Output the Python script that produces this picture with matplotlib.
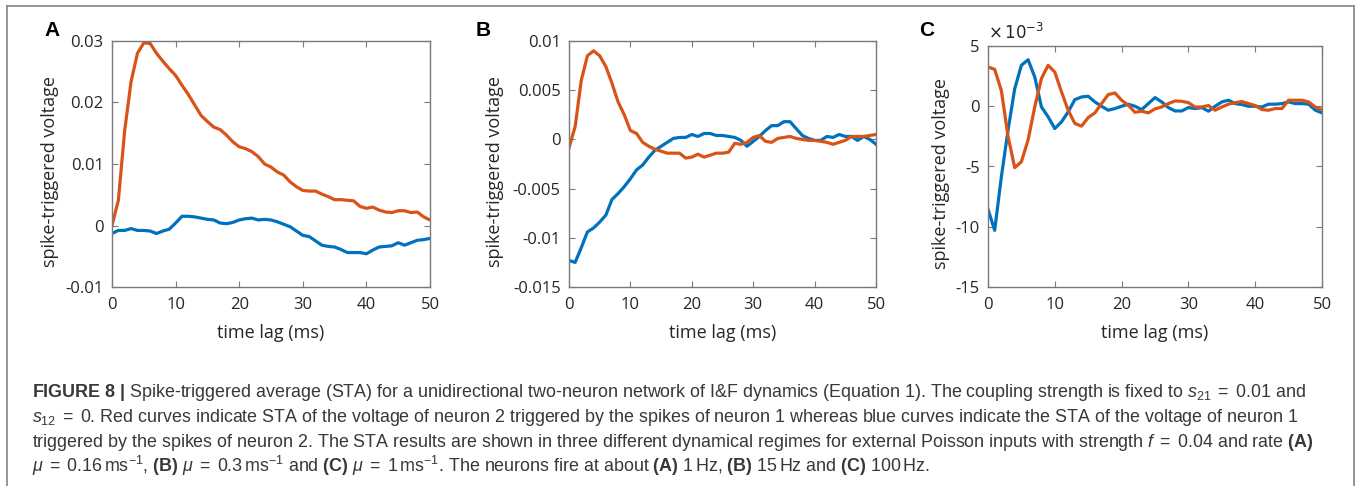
import numpy as np
import matplotlib
matplotlib.use("Agg")
import matplotlib.pyplot as plt
from matplotlib.ticker import FuncFormatter, MultipleLocator
from matplotlib.lines import Line2D

plt.rcParams['font.family'] = ['Open Sans', 'DejaVu Sans']
plt.rcParams['axes.unicode_minus'] = False
plt.rcParams['mathtext.fontset'] = 'custom'
plt.rcParams['mathtext.rm'] = 'Liberation Sans'
plt.rcParams['mathtext.it'] = 'Liberation Sans:italic'
plt.rcParams['mathtext.bf'] = 'Liberation Sans:bold'

# time lag axis (ms)
lag = np.arange(0, 51)

# (A) mu = 0.16 /ms
a_red = [0.0, 0.0041, 0.0155, 0.0234, 0.0280, 0.0297, 0.0296, 0.0280, 0.0267, 0.0255,
         0.0244, 0.0228, 0.0213, 0.0196, 0.0179, 0.0169, 0.0160, 0.0156, 0.0147, 0.0136,
         0.0128, 0.0125, 0.0120, 0.0112, 0.0100, 0.0095, 0.0087, 0.0082, 0.0071, 0.0063,
         0.0057, 0.0056, 0.0056, 0.0051, 0.0047, 0.0042, 0.0042, 0.0041, 0.0040, 0.0031,
         0.0028, 0.0030, 0.0025, 0.0022, 0.0021, 0.0024, 0.0024, 0.0021, 0.0022, 0.0014,
         0.0009]
a_blue = [-0.0013, -0.0008, -0.0008, -0.0005, -0.0008, -0.0008, -0.0009, -0.0013, -0.0009, -0.0006,
          0.0004, 0.0015, 0.0015, 0.0014, 0.0012, 0.0010, 0.0009, 0.0004, 0.0003, 0.0005,
          0.0009, 0.0011, 0.0012, 0.0009, 0.0010, 0.0009, 0.0006, 0.0002, -0.0002, -0.0009,
          -0.0016, -0.0018, -0.0025, -0.0032, -0.0034, -0.0035, -0.0039, -0.0044, -0.0044, -0.0044,
          -0.0046, -0.0040, -0.0035, -0.0034, -0.0033, -0.0028, -0.0032, -0.0028, -0.0024, -0.0023,
          -0.0021]

# (B) mu = 0.3 /ms
b_red = [-0.00085, 0.0013, 0.0060, 0.0085, 0.0090, 0.0085, 0.0074, 0.0057, 0.0038, 0.0025,
         0.0009, 0.0006, -0.0003, -0.0007, -0.0010, -0.0012, -0.0014, -0.0014, -0.0014, -0.0019,
         -0.0018, -0.0015, -0.0018, -0.0016, -0.0014, -0.0014, -0.0013, -0.0004, -0.0005, -0.0003,
         0.0002, 0.0004, -0.0002, -0.0003, 0.0001, 0.0002, 0.0003, 0.0001, 0.0, -0.0001,
         -0.0001, -0.0002, -0.0003, -0.0005, -0.0003, -0.0001, 0.0003, 0.0003, 0.0003, 0.0004,
         0.0005]
b_blue = [-0.0123, -0.0125, -0.0110, -0.0094, -0.0090, -0.0084, -0.0077, -0.0061, -0.0055, -0.0048,
          -0.0040, -0.0031, -0.0026, -0.0018, -0.0011, -0.0007, -0.0003, 0.0001, 0.0002, 0.0002,
          0.0005, 0.0003, 0.0006, 0.0006, 0.0004, 0.0004, 0.0003, 0.0002, -0.0001, -0.0007,
          -0.0002, 0.0003, 0.0009, 0.0014, 0.0014, 0.0018, 0.0018, 0.0011, 0.0004, 0.0001,
          -0.0001, -0.0001, 0.0003, 0.0002, 0.0005, 0.0003, 0.0003, -0.0001, 0.0003, 0.0,
          -0.0005]

# (C) mu = 1 /ms, values in units of 1e-3
c_red = [3.26, 3.06, 1.3, -2.5, -5.1, -4.6, -2.8, -0.05, 2.3, 3.4,
         2.84, 1.2, -0.33, -1.43, -1.65, -0.94, -0.55, 0.22, 0.97, 1.1,
         0.5, 0.08, -0.5, -0.41, -0.55, -0.22, -0.06, 0.22, 0.44, 0.41,
         0.3, -0.06, -0.06, 0.06, -0.33, -0.06, 0.17, 0.3, 0.39, 0.22,
         0.06, -0.28, -0.33, -0.19, -0.19, 0.5, 0.5, 0.5, 0.36, -0.06,
         -0.28]
c_blue = [-8.55, -10.3, -5.85, -2.0, 1.46, 3.4, 3.86, 2.43, -0.05, -0.88,
          -1.85, -1.3, -0.47, 0.55, 0.77, 0.83, 0.36, 0.0, -0.33, -0.19,
          0.0, 0.17, 0.0, -0.28, 0.22, 0.72, 0.36, -0.11, -0.39, -0.39,
          -0.11, -0.19, -0.11, -0.41, 0.0, 0.36, 0.5, 0.22, 0.14, 0.0,
          0.0, -0.06, 0.17, 0.17, 0.22, 0.36, 0.22, 0.22, 0.17, -0.33,
          -0.55]
c_scale = 1e-3

RED = '#D95319'
BLUE = '#0072BD'
TXT = '#262626'
SPINE = '#7a7a7a'

W, H = 1360, 486
fig = plt.figure(figsize=(W / 100, H / 100), dpi=100)


def px_axes(left, top, right, bottom):
    return fig.add_axes([left / W, 1 - bottom / H, (right - left) / W, (bottom - top) / H])


def style(ax, ylim, ystep, fmt, ylab_x):
    ax.set_xlim(0, 50)
    ax.set_ylim(*ylim)
    ax.xaxis.set_major_locator(MultipleLocator(10))
    ax.yaxis.set_major_locator(MultipleLocator(ystep))
    ax.yaxis.set_major_formatter(FuncFormatter(fmt))
    ax.tick_params(direction='in', top=True, right=True, length=4, width=0.8,
                   color=SPINE, labelcolor=TXT, labelsize=12)
    ax.tick_params(axis='x', pad=7)
    ax.tick_params(axis='y', pad=6)
    for s in ax.spines.values():
        s.set_color(SPINE)
        s.set_linewidth(1.0)
    ax.set_xlabel('time lag (ms)', fontsize=13, color=TXT, labelpad=8)
    ax.set_ylabel('spike-triggered voltage', fontsize=13, color=TXT)
    ax.yaxis.set_label_coords(ylab_x, 0.47)


def plain(v, pos):
    return f"{round(v, 6):g}"


ax_a = px_axes(112, 41, 430, 287)
ax_a.plot(lag, a_blue, color=BLUE, lw=2.3)
ax_a.plot(lag, a_red, color=RED, lw=2.3)
style(ax_a, (-0.01, 0.03), 0.01, plain, -0.167)

ax_b = px_axes(569, 41, 876, 287)
ax_b.plot(lag, b_blue, color=BLUE, lw=2.3)
ax_b.plot(lag, b_red, color=RED, lw=2.3)
style(ax_b, (-0.015, 0.01), 0.005, plain, -0.212)

ax_c = px_axes(988, 46, 1322, 287)
ax_c.plot(lag, np.array(c_blue) * c_scale, color=BLUE, lw=2.3)
ax_c.plot(lag, np.array(c_red) * c_scale, color=RED, lw=2.3)
style(ax_c, (-0.015, 0.005), 0.005, lambda v, p: f"{round(v / c_scale, 6):g}", -0.114)
ax_c.text(0.0, 1.012, r'$\times\,10^{-3}$', transform=ax_c.transAxes, ha='left', va='bottom',
          fontsize=12, color=TXT, math_fontfamily='dejavusans')

# panel letters
for x, letter in [(52, 'A'), (483, 'B'), (927, 'C')]:
    fig.text(x / W, 1 - 30 / H, letter, ha='center', va='center', fontsize=15,
             fontweight='bold', family=['Liberation Sans', 'DejaVu Sans'], color='black')

# frame around the figure
for xs, ys in [([7, 1354], [6, 6]), ([7, 7], [6, 486]), ([1354, 1354], [6, 486])]:
    fig.add_artist(Line2D([x / W for x in xs], [1 - y / H for y in ys], color='#8c8c8c', lw=1.3))

caption = [
    r"$\mathbf{FIGURE\ 8\ |}$ Spike-triggered average (STA) for a unidirectional two-neuron network of I&F dynamics (Equation 1). The coupling strength is fixed to $s_{21}\;=\;0.01$ and",
    r"$s_{12}\;=\;0$. Red curves indicate STA of the voltage of neuron 2 triggered by the spikes of neuron 1 whereas blue curves indicate the STA of the voltage of neuron 1",
    r"triggered by the spikes of neuron 2. The STA results are shown in three different dynamical regimes for external Poisson inputs with strength $f\;=\;0.04$ and rate $\mathbf{(A)}$",
    r"$\mu\;=\;0.16\,\mathrm{ms}^{-1}$, $\mathbf{(B)}$ $\mu\;=\;0.3\,\mathrm{ms}^{-1}$ and $\mathbf{(C)}$ $\mu\;=\;1\,\mathrm{ms}^{-1}$. The neurons fire at about $\mathbf{(A)}$ 1$\,$Hz, $\mathbf{(B)}$ 15$\,$Hz and $\mathbf{(C)}$ 100$\,$Hz.",
]
for i, line in enumerate(caption):
    fig.text(32 / W, 1 - (397 + 25 * i) / H, line, ha='left', va='baseline', fontsize=12.85,
             family=['Liberation Sans', 'DejaVu Sans'], color='#383838')

fig.savefig('out.png', dpi=100)
